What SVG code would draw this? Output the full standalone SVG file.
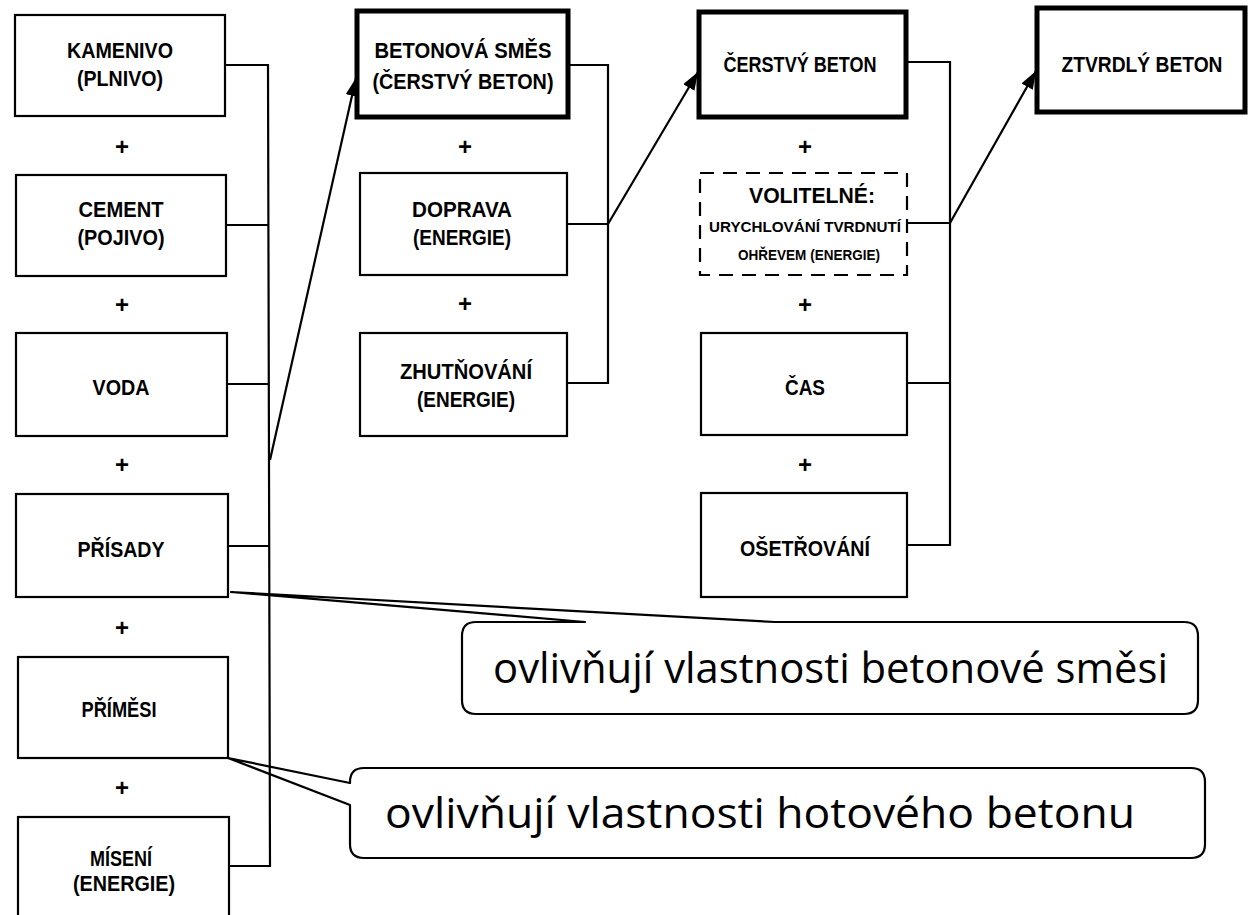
<svg xmlns="http://www.w3.org/2000/svg" width="1248" height="915" viewBox="0 0 1248 915">
  <defs>
    <marker id="arrow" markerUnits="userSpaceOnUse" markerWidth="20" markerHeight="14" refX="18" refY="6.5" orient="auto">
      <path d="M0,0 L18,6.5 L0,13 Z" fill="#000"/>
    </marker>
    <style>
      .box { fill: #fff; stroke: #000; stroke-width: 2.2; }
      .thick { fill: #fff; stroke: #000; stroke-width: 5; }
      .dash { fill: #fff; stroke: #000; stroke-width: 2.2; stroke-dasharray: 14 9; }
      .lbl { font-family: "Liberation Sans", Arial, sans-serif; font-weight: bold; font-size: 22px; fill: #000; text-anchor: middle; }
      .sm { font-family: "Liberation Sans", Arial, sans-serif; font-weight: bold; font-size: 14px; fill: #000; text-anchor: middle; }
      .plus { font-family: "Liberation Sans", Arial, sans-serif; font-weight: bold; font-size: 24px; fill: #000; text-anchor: middle; }
      .wire { fill: none; stroke: #000; stroke-width: 2.2; }
      .arr { fill: none; stroke: #000; stroke-width: 2.2; marker-end: url(#arrow); }
      .callout { fill: #fff; stroke: #000; stroke-width: 2.2; stroke-linejoin: round; }
      .note { font-family: "Open Sans", "Noto Sans", sans-serif; font-size: 42px; fill: #000; }
    </style>
  </defs>

  <!-- callout notes (drawn first so the wires stay visible through the wedges) -->
  <g id="note-prisady">
    <path class="callout" d="M476,622 H585 L231,592 L775,622 H1184 Q1198,622 1198,636 V700 Q1198,714 1184,714 H476 Q462,714 462,700 V636 Q462,622 476,622 Z"/>
    <text class="note" x="493" y="683" textLength="675" lengthAdjust="spacingAndGlyphs">ovlivňují vlastnosti betonové směsi</text>
  </g>
  <g id="note-primesi">
    <path class="callout" d="M364,768 H1191 Q1205,768 1205,782 V844 Q1205,858 1191,858 H364 Q350,858 350,844 V805 L228,758 L350,783 V782 Q350,768 364,768 Z"/>
    <text class="note" x="385" y="828" textLength="750" lengthAdjust="spacingAndGlyphs">ovlivňují vlastnosti hotového betonu</text>
  </g>

  <!-- connectors -->
  <g id="connectors">
    <path class="wire" d="M225,65 H268 L270,866 H229"/>
    <path class="wire" d="M226,225 H268.4"/>
    <path class="wire" d="M227,384 H268.8"/>
    <path class="wire" d="M228,546 H269.2"/>
    <path class="arr" d="M270,460 L356,78"/>

    <path class="wire" d="M568,65 H608 V383 H567"/>
    <path class="wire" d="M567,224 H608"/>
    <path class="arr" d="M608,224 L698,72"/>

    <path class="wire" d="M906,62 H950 V545 H907"/>
    <path class="wire" d="M907,223 H950"/>
    <path class="wire" d="M907,383 H950"/>
    <path class="arr" d="M950,223 L1036,71"/>
  </g>

  <!-- column 1: ingredients -->
  <g id="kamenivo">
    <rect class="box" x="15" y="15" width="210" height="101"/>
    <text class="lbl" x="120" y="58" textLength="106" lengthAdjust="spacingAndGlyphs">KAMENIVO</text>
    <text class="lbl" x="120" y="86" textLength="86" lengthAdjust="spacingAndGlyphs">(PLNIVO)</text>
  </g>
  <g id="cement">
    <rect class="box" x="16" y="175" width="210" height="101"/>
    <text class="lbl" x="121" y="217" textLength="85" lengthAdjust="spacingAndGlyphs">CEMENT</text>
    <text class="lbl" x="121" y="245" textLength="87" lengthAdjust="spacingAndGlyphs">(POJIVO)</text>
  </g>
  <g id="voda">
    <rect class="box" x="16" y="333" width="211" height="103"/>
    <text class="lbl" x="121" y="395" textLength="57" lengthAdjust="spacingAndGlyphs">VODA</text>
  </g>
  <g id="prisady">
    <rect class="box" x="16" y="494" width="212" height="103"/>
    <text class="lbl" x="121" y="557" textLength="87" lengthAdjust="spacingAndGlyphs">PŘÍSADY</text>
  </g>
  <g id="primesi">
    <rect class="box" x="18" y="657" width="210" height="101"/>
    <text class="lbl" x="119" y="717" textLength="75" lengthAdjust="spacingAndGlyphs">PŘÍMĚSI</text>
  </g>
  <g id="miseni">
    <rect class="box" x="18" y="817" width="211" height="120"/>
    <text class="lbl" x="121" y="866" textLength="62" lengthAdjust="spacingAndGlyphs">MÍSENÍ</text>
    <text class="lbl" x="124" y="891" textLength="102" lengthAdjust="spacingAndGlyphs">(ENERGIE)</text>
  </g>
  <g id="plus-col1">
    <text class="plus" x="122" y="155">+</text>
    <text class="plus" x="122" y="313">+</text>
    <text class="plus" x="122" y="473">+</text>
    <text class="plus" x="122" y="636">+</text>
    <text class="plus" x="122" y="796">+</text>
  </g>

  <!-- column 2: fresh mix processing -->
  <g id="betonova-smes">
    <rect class="thick" x="357" y="11" width="211" height="106"/>
    <text class="lbl" x="463" y="58" textLength="177" lengthAdjust="spacingAndGlyphs">BETONOVÁ SMĚS</text>
    <text class="lbl" x="463" y="89" textLength="181" lengthAdjust="spacingAndGlyphs">(ČERSTVÝ BETON)</text>
  </g>
  <g id="doprava">
    <rect class="box" x="360" y="173" width="207" height="102"/>
    <text class="lbl" x="462" y="217" textLength="100" lengthAdjust="spacingAndGlyphs">DOPRAVA</text>
    <text class="lbl" x="462" y="245" textLength="98" lengthAdjust="spacingAndGlyphs">(ENERGIE)</text>
  </g>
  <g id="zhutnovani">
    <rect class="box" x="360" y="333" width="207" height="103"/>
    <text class="lbl" x="466" y="379" textLength="132" lengthAdjust="spacingAndGlyphs">ZHUTŇOVÁNÍ</text>
    <text class="lbl" x="466" y="407" textLength="98" lengthAdjust="spacingAndGlyphs">(ENERGIE)</text>
  </g>
  <g id="plus-col2">
    <text class="plus" x="465" y="155">+</text>
    <text class="plus" x="465" y="312">+</text>
  </g>

  <!-- column 3: hardening -->
  <g id="cerstvy-beton">
    <rect class="thick" x="699" y="12" width="207" height="105"/>
    <text class="lbl" x="800" y="72" textLength="153" lengthAdjust="spacingAndGlyphs">ČERSTVÝ BETON</text>
  </g>
  <g id="volitelne">
    <rect class="dash" x="700" y="173" width="207" height="102"/>
    <text class="lbl" x="812" y="203" textLength="126" lengthAdjust="spacingAndGlyphs">VOLITELNÉ:</text>
    <text class="sm" x="805" y="232" textLength="192" lengthAdjust="spacingAndGlyphs">URYCHLOVÁNÍ TVRDNUTÍ</text>
    <text class="sm" x="809" y="260" textLength="142" lengthAdjust="spacingAndGlyphs">OHŘEVEM (ENERGIE)</text>
  </g>
  <g id="cas">
    <rect class="box" x="701" y="333" width="206" height="102"/>
    <text class="lbl" x="805" y="395" textLength="40" lengthAdjust="spacingAndGlyphs">ČAS</text>
  </g>
  <g id="osetrovani">
    <rect class="box" x="701" y="493" width="206" height="104"/>
    <text class="lbl" x="805" y="556" textLength="130" lengthAdjust="spacingAndGlyphs">OŠETŘOVÁNÍ</text>
  </g>
  <g id="plus-col3">
    <text class="plus" x="805" y="155">+</text>
    <text class="plus" x="805" y="313">+</text>
    <text class="plus" x="805" y="473">+</text>
  </g>

  <!-- column 4: result -->
  <g id="ztvrdly-beton">
    <rect class="thick" x="1037" y="8" width="208" height="104"/>
    <text class="lbl" x="1142" y="72" textLength="161" lengthAdjust="spacingAndGlyphs">ZTVRDLÝ BETON</text>
  </g>
</svg>
